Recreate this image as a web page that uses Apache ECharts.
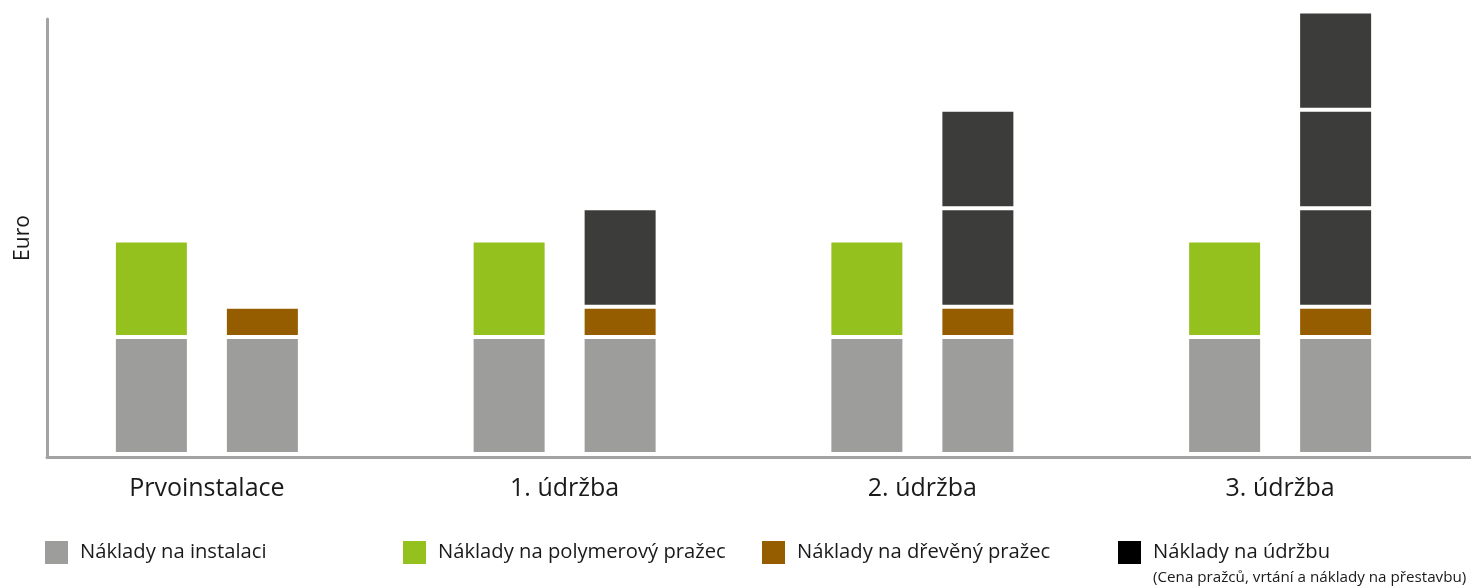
<!DOCTYPE html>
<html><head><meta charset="utf-8">
<script src="https://cdn.jsdelivr.net/npm/echarts@6/dist/echarts.min.js"></script>
<style>html,body{margin:0;padding:0;background:#fff}#c{width:1471px;height:586px}</style>
</head><body><div id="c"></div>
<script>
const categories = ['Prvoinstalace', '1. údržba', '2. údržba', '3. údržba'];
const installCost = [12, 12, 12, 12];
const polymerCost = [9.9, 9.9, 9.9, 9.9];
const woodCost = [3.1, 3.1, 3.1, 3.1];
const maint1 = [null, 10.1, 10.1, 10.1];
const maint2 = [null, null, 10.1, 10.1];
const maint3 = [null, null, null, 10.1];
const seriesNames = ['Náklady na instalaci', 'Náklady na polymerový pražec', 'Náklady na dřevěný pražec', 'Náklady na údržbu'];
const legendNote = '(Cena pražců, vrtání a náklady na přestavbu)';
const yName = 'Euro';

const FONT = 'Open Sans';
const TXT = '#1a1a1a';
const AXIS = '#a3a3a3';
const COLORS = ['#9d9d9c', '#95c11f', '#965c00', '#3c3c3b'];
const YMIN = -0.31, YMAX = 44.62;
const legendLeft = [45, 403, 762, 1118];

const chart = echarts.init(document.getElementById('c'), null, {renderer: 'canvas'});

function bar(name, stack, data, color) {
  return {
    type: 'bar', name, stack, data,
    xAxisIndex: 1, yAxisIndex: 1,
    barWidth: 75, barGap: '48%',
    clip: false,
    itemStyle: {color, borderColor: '#ffffff', borderWidth: 2},
    emphasis: {disabled: true}
  };
}

chart.setOption({
  animation: false,
  backgroundColor: '#ffffff',
  textStyle: {fontFamily: FONT},
  title: {
    text: legendNote, left: 1153, top: 570, padding: 0,
    textStyle: {fontFamily: FONT, fontSize: 15.2, fontWeight: 'normal', color: TXT}
  },
  legend: seriesNames.map((n, i) => ({
    left: legendLeft[i], top: 541, padding: 0,
    itemWidth: 23, itemHeight: 23, icon: 'rect',
    selectedMode: false,
    data: [i === 3 ? {name: n, itemStyle: {color: '#000000'}} : {name: n}],
    itemStyle: {borderWidth: 0},
    textStyle: {fontFamily: FONT, fontSize: 20.2, color: TXT, padding: [0, 0, 0, 7]}
  })),
  grid: [
    {left: 47, right: 0, top: 19, bottom: 129, containLabel: false, outerBoundsMode: 'none'},
    {left: 28, right: 12, top: 19, bottom: 129, containLabel: false, outerBoundsMode: 'none'}
  ],
  xAxis: [
    {
      type: 'category', gridIndex: 0, data: categories,
      axisLine: {show: true, onZero: false, lineStyle: {color: AXIS, width: 3}},
      axisTick: {show: false}, axisLabel: {show: false}, splitLine: {show: false}
    },
    {
      type: 'category', gridIndex: 1, data: categories,
      axisLine: {show: false, onZero: false}, axisTick: {show: false},
      axisLabel: {fontFamily: FONT, fontSize: 25, color: TXT, margin: 19},
      splitLine: {show: false}
    }
  ],
  yAxis: [
    {
      type: 'value', gridIndex: 0, min: YMIN, max: YMAX,
      axisLine: {show: true, lineStyle: {color: AXIS, width: 3}},
      axisTick: {show: false}, axisLabel: {show: false}, splitLine: {show: false},
      name: yName, nameLocation: 'middle', nameRotate: 90, nameGap: 13,
      nameTextStyle: {fontFamily: FONT, fontSize: 21, color: TXT}
    },
    {
      type: 'value', gridIndex: 1, min: YMIN, max: YMAX,
      axisLine: {show: false}, axisTick: {show: false}, axisLabel: {show: false}, splitLine: {show: false}
    }
  ],
  series: [
    bar(seriesNames[0], 'poly', installCost, COLORS[0]),
    bar(seriesNames[1], 'poly', polymerCost, COLORS[1]),
    bar(seriesNames[0], 'wood', installCost, COLORS[0]),
    bar(seriesNames[2], 'wood', woodCost, COLORS[2]),
    bar(seriesNames[3], 'wood', maint1, COLORS[3]),
    bar(seriesNames[3], 'wood', maint2, COLORS[3]),
    bar(seriesNames[3], 'wood', maint3, COLORS[3])
  ]
});
</script>
</body></html>
